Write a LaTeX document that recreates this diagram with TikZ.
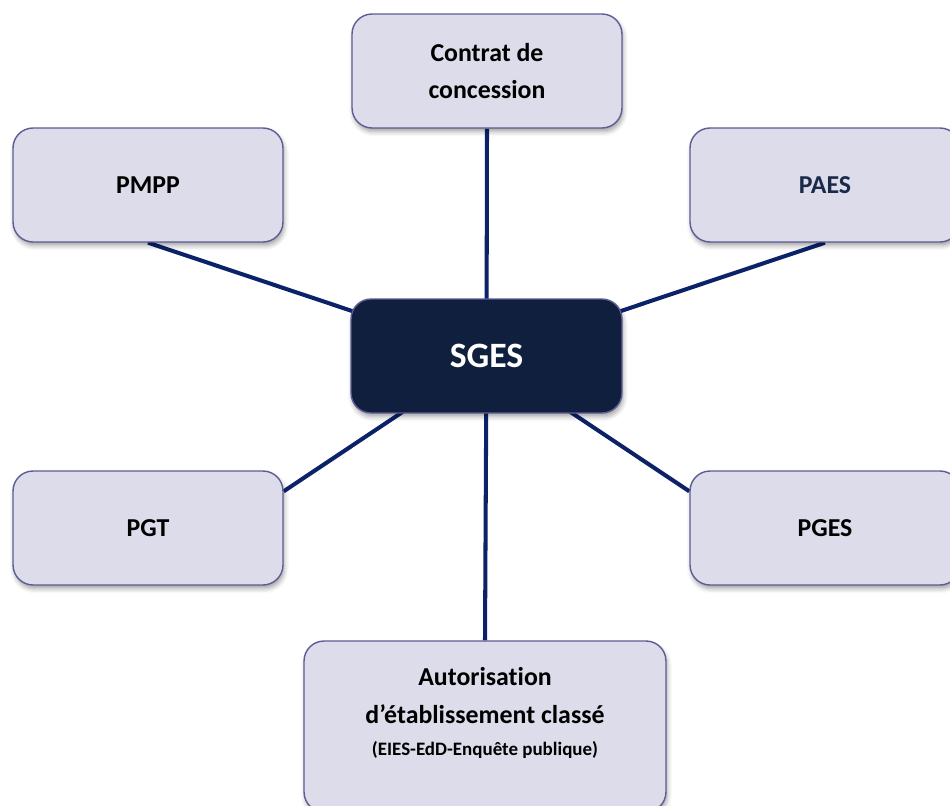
\documentclass[tikz,border=0pt]{standalone}
\usepackage{fontspec}
\setmainfont[Ligatures=NoCommon]{Carlito}
\usetikzlibrary{shadows.blur,backgrounds,calc}
\definecolor{boxfill}{HTML}{DCDCEA}
\definecolor{boxline}{HTML}{5C5C96}
\definecolor{hubfill}{HTML}{0F1F3D}
\definecolor{linkcol}{HTML}{0B2268}
\definecolor{paestext}{HTML}{1B2A4A}

\begin{document}
\begin{tikzpicture}[x=0.02cm,y=-0.02cm,
  leaf/.style={draw=boxline, line width=0.8pt, fill=boxfill,
    rounded corners=0.4cm, minimum width=5.4cm, minimum height=2.28cm,
    align=center, font=\fontsize{14.7}{21.5}\selectfont\bfseries,
    blur shadow={shadow xshift=0.8pt, shadow yshift=-2.2pt,
      shadow blur radius=2.5pt, shadow opacity=35}},
  hub/.style={leaf, fill=hubfill, text=white,
    font=\fontsize{20.3}{24}\selectfont\bfseries, minimum width=5.42cm},
  link/.style={draw=linkcol, line width=2.3pt}]
\useasboundingbox (0,0) rectangle (950,805);
\clip (0,0) rectangle (950,805);

% outer boxes and the central hub
\node[leaf] (contrat) at (487,71) {Contrat de\\concession};
\node[leaf] (pmpp) at (148,185) {PMPP};
\node[leaf, text=paestext] (paes) at (825,185) {PAES};
\node[hub] (sges) at (486.5,356) {SGES};
\node[leaf] (pgt) at (148,528) {PGT};
\node[leaf] (pges) at (825,528) {PGES};
\node[leaf, minimum width=7.24cm, minimum height=3.42cm] (autor) at (485,726.5) {};
\node[align=center, font=\fontsize{14.7}{21.5}\selectfont\bfseries] (autortext) at (485,713)
  {Autorisation\\d’établissement classé\\[-3pt]
   {\fontsize{10.8}{12}\selectfont (EIES-EdD-Enquête publique)}};

% spokes, running under the boxes towards the hub centre
\begin{pgfonlayer}{background}
\coordinate (pgtport) at ($(pgt.north east)+(0,21)$);
\coordinate (pgesport) at ($(pges.north west)+(0,21)$);
\draw[link] (contrat.south) -- (sges.center);
\draw[link] (pmpp.south) -- (sges.center);
\draw[link] (paes.south) -- (sges.center);
\draw[link] (pgtport) -- (sges.center);
\draw[link] (pgesport) -- (sges.center);
\draw[link] (autor.north) -- (sges.center);
\end{pgfonlayer}
\end{tikzpicture}
\end{document}
